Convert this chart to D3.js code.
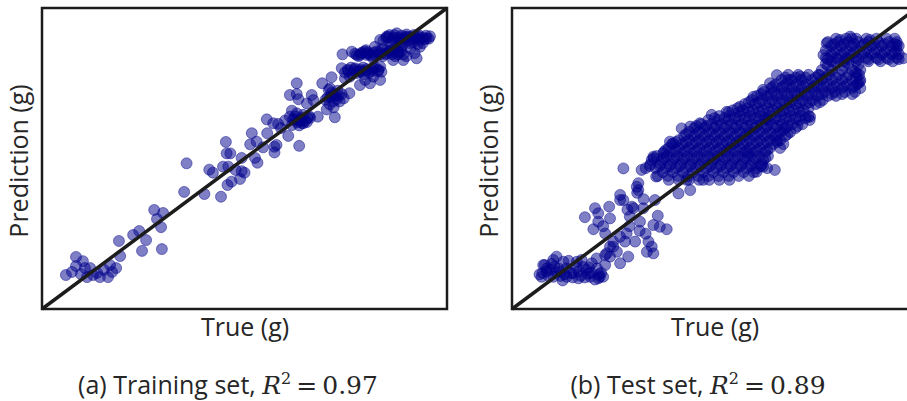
<!DOCTYPE html>
<html>
<head>
<meta charset="utf-8">
<script src="https://cdn.jsdelivr.net/npm/d3@7"></script>
<style>
  html, body { margin: 0; padding: 0; background: #fff; }
  svg { display: block; }
  .lbl { font-family: "Open Sans", sans-serif; fill: #262626; }
  .math { font-family: "DejaVu Serif", "Liberation Serif", serif; }
</style>
</head>
<body>
<svg id="chart" width="907" height="401"></svg>
<script>
// ---- data (True, Prediction) in grams ----
const axisDomain = [0, 100];

const trainPoints = [
  [5.9,11.3],[7.4,12.3],[8.4,17.3],[8.4,14.3],[10.1,15.9],[11.1,10.6],[11.9,13.6],[9.6,11.6],
  [12.6,11.3],[14.3,10.6],[16.3,10.6],[16.8,14.6],[18.3,13.6],[17.3,12.3],[19.3,17.6],[19.0,22.6],
  [22.5,24.6],[24.0,25.9],[25.7,22.9],[24.7,19.3],[27.7,32.9],[29.9,31.9],[28.4,29.9],[29.4,27.2],
  [29.6,19.9],[10.6,13.6],[15.3,13.0],[13.6,12.0],
  [35.7,48.4],[35.1,38.9],[40.1,38.2],[44.2,37.3],[41.3,46.3],[42.2,45.3],[45.4,55.5],[45.6,51.7],
  [46.5,51.7],[44.7,47.3],[46.0,47.3],[47.8,46.2],[49.3,50.2],[49.3,45.8],[50.0,45.3],[48.9,43.2],
  [46.8,42.3],[45.8,41.2],[51.4,54.7],[51.8,58.4],[53.0,55.6],[52.6,50.2],[53.2,48.6],[55.6,58.4],
  [55.5,63.0],[54.6,53.7],[57.4,53.9],[57.4,52.0],[57.9,54.5],[60.8,57.5],[63.5,54.2],[57.1,61.7],
  [58.3,61.5],[60.0,62.6],[61.2,63.9],[61.7,65.9],[62.9,65.0],[63.7,62.8],[64.5,61.7],[59.0,60.1],
  [61.7,61.1],[62.7,62.8],[65.4,62.1],[66.2,63.5],[62.9,75.0],[61.2,71.1],[62.9,71.4],[63.3,69.7],
  [65.4,68.3],[66.6,71.1],[67.0,69.4],[68.1,63.9],[69.2,75.0],[70.3,66.3],[71.5,77.0],[72.3,63.7],
  [71.9,71.1],[72.8,69.7],[71.1,73.3],[74.0,71.4],[74.0,80.0],[74.2,84.6],[75.9,71.7],[74.8,76.6],
  [77.3,80.0],[77.7,84.4],[78.5,74.4],[79.8,76.1],[81.0,75.0],[81.8,77.2],[83.5,76.1],[82.2,87.1],
  [83.5,89.4],[85.1,90.5],[87.6,91.6],[90.0,90.5],[92.5,89.9],[95.0,89.9],[92.5,83.3],[89.2,82.7],
  [86.7,82.7],[81.8,83.3],[78.5,84.4],[80.2,84.4],[85.1,86.0],[88.4,87.1],[90.9,88.3],[93.3,87.1],
  [83.5,80.5],[81.8,80.0],[78.5,78.8],[76.0,77.2],
  [77.3,84.8],[79.0,85.2],[80.5,84.8],[82.0,85.2],[83.5,84.6],[85.0,85.0],[86.5,84.6],[88.0,85.2],
  [89.2,84.5],[80.0,86.0],[84.0,86.4],[87.0,86.2],
  [85.0,90.0],[86.5,89.6],[88.0,90.2],[89.5,89.8],[91.0,90.4],[92.5,90.0],[94.0,90.2],[95.5,89.8],
  [87.0,91.0],[90.0,91.2],[93.0,91.0],[86.0,88.3],[88.5,88.5],[91.5,88.6],[94.0,88.3],
  [86.0,86.0],[88.0,85.5],[90.0,84.0],[92.0,85.0],[91.0,86.5],
  [75.5,79.5],[77.0,79.0],[78.5,79.6],[80.0,79.2],[81.5,79.5],[83.0,79.0],
  [70.5,70.2],[71.5,71.8],[72.5,70.8],[73.0,72.5],[70.8,72.8],[71.0,68.0],[72.0,67.0],[73.5,69.0],[74.5,70.0],
  [62.0,63.0],[63.0,62.0],[64.0,63.5],[65.0,62.5],[66.0,64.0],[63.5,61.0],[64.5,64.5],
  [78.2,84.0],[79.7,85.6],[81.2,84.2],[82.7,85.6],[84.2,84.0],[85.7,85.6],[87.2,84.0],[88.7,85.8],[76.5,85.5],
  [84.3,89.2],[85.8,91.0],[87.3,89.0],[88.8,90.8],[90.3,89.2],[91.8,91.0],[93.3,89.4],[94.8,90.8],[95.8,90.6],
  [89.0,87.5],[92.8,88.0],
  [74.8,78.6],[76.3,80.2],[77.8,78.4],[79.3,80.2],[80.8,78.6],[82.3,80.2],[83.8,78.8],[76.5,78.0],[79.5,78.0],
  [70.0,69.5],[72.0,69.0],[73.2,71.0],[71.2,70.5],
  [62.5,64.0],[63.8,62.4],[65.5,63.5],[64.2,61.8],
  [78.9,84.9],[80.4,85.3],[81.9,84.5],[83.4,85.4],[84.9,84.7],[86.4,85.2],[87.9,84.6],
  [85.4,90.4],[86.9,90.1],[88.4,89.6],[89.9,90.3],[91.4,89.8],[92.9,90.5],[94.4,89.6],
  [75.6,79.1],[77.1,79.6],[78.6,79.0],[80.1,79.7],[81.6,79.0],[83.1,79.5]
];

const testPoints = [
  // low cluster
  [7.3,10.7],[8.6,13.5],[8.1,14.6],[10.2,16.3],[11.0,12.4],[12.7,15.7],[13.5,10.7],[15.1,11.9],
  [16.4,10.2],[18.4,13.0],[19.7,15.2],[21.3,10.2],[19.3,10.7],[17.2,16.3],[20.9,16.8],[23.0,14.6],
  [23.0,17.9],[24.2,20.7],[26.7,15.2],[28.7,17.4],[25.9,19.0],[25.0,22.4],[23.0,25.1],[20.1,26.5],
  [18.0,30.5],[20.5,33.5],[21.3,31.8],[21.3,29.0],[24.2,30.1],[26.7,36.2],[27.5,36.2],[26.7,37.9],
  [30.0,33.5],[29.1,30.7],[31.6,29.0],[30.8,40.6],[30.9,38.6],[32.4,33.5],[34.9,27.9],[36.5,27.3],
  [38.2,26.5],[35.3,36.2],[26.7,24.0],[28.3,25.1],[30.4,22.4],[27.9,22.4],[33.7,22.4],[34.5,20.7],
  [34.9,18.5],[33.3,19.0],[24.2,17.4],[22.5,10.7],[10.2,10.7],[11.9,12.4],[9.4,13.0],[7.7,14.6],
  [11.0,17.4],[16.0,15.7],[21.7,10.7],[27.5,46.7],[23.4,18.5],[25.0,20.7],[32.0,46.2],[29.6,34.0],
  [31.2,39.5],[31.2,41.8],
  [7.5,12.0],[9.0,11.0],[10.5,14.0],[12.0,11.0],[13.5,13.5],[15.0,10.5],[16.5,12.5],[18.0,10.5],
  [19.5,12.0],[21.0,13.5],[14.0,16.0],[17.5,14.0],[12.5,9.5],[20.5,9.8],
  [8.5,12.5],[11.5,13.5],[14.5,12.0],[17.0,11.0],[19.0,13.8],[22.0,12.0],[6.8,11.5],[9.8,15.0],
  [13.0,11.5],[16.0,13.8],[18.8,11.7],[21.5,11.5],
  [33.0,25.0],[31.5,26.0],[29.0,27.5],[36.0,31.0],[22.5,27.5],[24.0,34.0],[32.5,36.5],[28.5,33.0],
  // middle blob edges
  [34.9,50.6],[37.4,51.7],[39.8,55.0],[41.9,60.0],[44.0,60.6],[46.4,61.7],[49.3,64.5],[53.0,65.5],
  [56.3,67.2],[59.6,70.5],[62.0,72.8],[63.7,75.0],[65.4,77.7],[68.2,76.1],[71.1,77.2],[76.0,77.7],
  [85.1,78.3],[85.5,75.0],[73.6,63.9],[64.9,46.2],[62.0,47.3],[60.4,45.6],[43.1,42.9],[44.0,39.5],
  [41.1,38.4],[47.2,42.9],[58.3,51.7],[65.4,56.1],[67.0,59.5],[62.9,62.8],[39.0,55.6],[35.6,44.0],
  // middle blob fill
  [36,44.2],[38.5,44.2],[41,44.2],[43.5,44.2],[46,44.2],[48.5,44.2],[51,44.2],[53.5,44.2],[56,44.2],[58.5,44.2],
  [33,46.8],[35.5,46.8],[38,46.8],[40.5,46.8],[43,46.8],[45.5,46.8],[48,46.8],[50.5,46.8],[53,46.8],[55.5,46.8],[58,46.8],[60.5,46.8],[63,46.8],
  [34.5,49.5],[37,49.5],[39.5,49.5],[42,49.5],[44.5,49.5],[47,49.5],[49.5,49.5],[52,49.5],[54.5,49.5],[57,49.5],[59.5,49.5],[62,49.5],
  [37.5,52.2],[40,52.2],[42.5,52.2],[45,52.2],[47.5,52.2],[50,52.2],[52.5,52.2],[55,52.2],[57.5,52.2],[60,52.2],[62.5,52.2],
  [39.5,54.8],[42,54.8],[44.5,54.8],[47,54.8],[49.5,54.8],[52,54.8],[54.5,54.8],[57,54.8],[59.5,54.8],[62,54.8],[64.5,54.8],[67,54.8],
  [42.5,57.5],[45,57.5],[47.5,57.5],[50,57.5],[52.5,57.5],[55,57.5],[57.5,57.5],[60,57.5],[62.5,57.5],[65,57.5],[67.5,57.5],
  [45,60.1],[47.5,60.1],[50,60.1],[52.5,60.1],[55,60.1],[57.5,60.1],[60,60.1],[62.5,60.1],[65,60.1],[67.5,60.1],[70,60.1],
  [48.5,62.8],[51,62.8],[53.5,62.8],[56,62.8],[58.5,62.8],[61,62.8],[63.5,62.8],[66,62.8],[68.5,62.8],[71,62.8],[73.5,62.8],
  [53.5,65.4],[56,65.4],[58.5,65.4],[61,65.4],[63.5,65.4],[66,65.4],[68.5,65.4],[71,65.4],
  [57.5,68.1],[60,68.1],[62.5,68.1],[65,68.1],[67.5,68.1],[70,68.1],[72.5,68.1],[75,68.1],
  [60.5,70.8],[63,70.8],[65.5,70.8],[68,70.8],[70.5,70.8],[73,70.8],[75.5,70.8],[78,70.8],[80,70.8],
  [64,73.4],[66.5,73.4],[69,73.4],[71.5,73.4],[74,73.4],[76.5,73.4],[79,73.4],[81.5,73.4],[84,73.4],[86,73.4],
  [66.5,76.1],[69,76.1],[71.5,76.1],[74,76.1],[76.5,76.1],[79,76.1],[81.5,76.1],[84,76.1],[86,76.1],
  [76.5,79.4],[79,79.4],[81.5,79.4],[84,79.4],[86,79.4],[84.7,78.8],[85.9,75.5],[78,80.8],[82,80.8],
  // middle blob, in-between rows
  [37.2,45.5],[39.7,45.5],[42.2,45.5],[44.7,45.5],[47.2,45.5],[49.7,45.5],[52.2,45.5],[54.7,45.5],[57.2,45.5],[59.7,45.5],
  [34.2,48.1],[36.7,48.1],[39.2,48.1],[41.7,48.1],[44.2,48.1],[46.7,48.1],[49.2,48.1],[51.7,48.1],[54.2,48.1],[56.7,48.1],[59.2,48.1],[61.7,48.1],
  [35.7,50.8],[38.2,50.8],[40.7,50.8],[43.2,50.8],[45.7,50.8],[48.2,50.8],[50.7,50.8],[53.2,50.8],[55.7,50.8],[58.2,50.8],[60.7,50.8],[63.2,50.8],
  [38.7,53.5],[41.2,53.5],[43.7,53.5],[46.2,53.5],[48.7,53.5],[51.2,53.5],[53.7,53.5],[56.2,53.5],[58.7,53.5],[61.2,53.5],[63.7,53.5],[66.2,53.5],
  [41.2,56.1],[43.7,56.1],[46.2,56.1],[48.7,56.1],[51.2,56.1],[53.7,56.1],[56.2,56.1],[58.7,56.1],[61.2,56.1],[63.7,56.1],[66.2,56.1],
  [43.7,58.8],[46.2,58.8],[48.7,58.8],[51.2,58.8],[53.7,58.8],[56.2,58.8],[58.7,58.8],[61.2,58.8],[63.7,58.8],[66.2,58.8],[68.7,58.8],
  [46.7,61.4],[49.2,61.4],[51.7,61.4],[54.2,61.4],[56.7,61.4],[59.2,61.4],[61.7,61.4],[64.2,61.4],[66.7,61.4],[69.2,61.4],[71.7,61.4],
  [51.2,64.1],[53.7,64.1],[56.2,64.1],[58.7,64.1],[61.2,64.1],[63.7,64.1],[66.2,64.1],[68.7,64.1],[71.2,64.1],[73.2,64.1],
  [55.7,66.7],[58.2,66.7],[60.7,66.7],[63.2,66.7],[65.7,66.7],[68.2,66.7],[70.7,66.7],[73.2,66.7],
  [59.2,69.4],[61.7,69.4],[64.2,69.4],[66.7,69.4],[69.2,69.4],[71.7,69.4],[74.2,69.4],[76.7,69.4],
  [62.2,72.1],[64.7,72.1],[67.2,72.1],[69.7,72.1],[72.2,72.1],[74.7,72.1],[77.2,72.1],[79.7,72.1],[82.2,72.1],[84.7,72.1],
  [65.2,74.7],[67.7,74.7],[70.2,74.7],[72.7,74.7],[75.2,74.7],[77.7,74.7],[80.2,74.7],[82.7,74.7],[85.2,74.7],
  [68.2,77.8],[70.7,77.8],[73.2,77.8],[75.7,77.8],[78.2,77.8],[80.7,77.8],[83.2,77.8],[85.7,77.8],
  [77.5,81.5],[80.0,81.8],[83.0,81.6],[85.5,81.0],
  // middle blob, further rows
  [38.7,42.9],[41.2,42.9],[43.7,42.9],[46.2,42.9],[48.7,42.9],[51.2,42.9],[53.7,42.9],
  [34,47.5],[36.5,47.5],[39,47.5],[41.5,47.5],[44,47.5],[46.5,47.5],[49,47.5],[51.5,47.5],[54,47.5],[56.5,47.5],[59,47.5],[61.5,47.5],
  [35,50.1],[37.5,50.1],[40,50.1],[42.5,50.1],[45,50.1],[47.5,50.1],[50,50.1],[52.5,50.1],[55,50.1],[57.5,50.1],[60,50.1],[62.5,50.1],
  [38,52.8],[40.5,52.8],[43,52.8],[45.5,52.8],[48,52.8],[50.5,52.8],[53,52.8],[55.5,52.8],[58,52.8],[60.5,52.8],[63,52.8],
  [40.5,55.5],[43,55.5],[45.5,55.5],[48,55.5],[50.5,55.5],[53,55.5],[55.5,55.5],[58,55.5],[60.5,55.5],[63,55.5],[65.5,55.5],
  [43,58.1],[45.5,58.1],[48,58.1],[50.5,58.1],[53,58.1],[55.5,58.1],[58,58.1],[60.5,58.1],[63,58.1],[65.5,58.1],[68,58.1],
  [45.5,60.8],[48,60.8],[50.5,60.8],[53,60.8],[55.5,60.8],[58,60.8],[60.5,60.8],[63,60.8],[65.5,60.8],[68,60.8],[70.5,60.8],
  [50,63.4],[52.5,63.4],[55,63.4],[57.5,63.4],[60,63.4],[62.5,63.4],[65,63.4],[67.5,63.4],[70,63.4],[72.5,63.4],
  [54.5,66.0],[57,66.0],[59.5,66.0],[62,66.0],[64.5,66.0],[67,66.0],[69.5,66.0],[72,66.0],
  [58.5,68.7],[61,68.7],[63.5,68.7],[66,68.7],[68.5,68.7],[71,68.7],[73.5,68.7],[76,68.7],
  [61.5,71.4],[64,71.4],[66.5,71.4],[69,71.4],[71.5,71.4],[74,71.4],[76.5,71.4],[79,71.4],[81.5,71.4],[84,71.4],
  [64.5,74.0],[67,74.0],[69.5,74.0],[72,74.0],[74.5,74.0],[77,74.0],[79.5,74.0],[82,74.0],[84.5,74.0],
  [67.5,76.9],[70,76.9],[72.5,76.9],[75,76.9],[77.5,76.9],[80,76.9],[82.5,76.9],[85,76.9],
  // top band
  [78,88.7],[80.5,88.7],[83,88.7],[85.5,88.7],[88,88.7],[90.5,88.7],[93,88.7],[95,88.7],
  [77.5,86.0],[80,86.0],[82.5,86.0],[85,86.0],[87.5,86.0],[90,86.0],[92.5,86.0],[95,86.0],
  [77.5,83.4],[80,83.4],[82.5,83.4],[85,83.4],[87.5,83.4],[90,83.4],[92.5,83.4],[95,83.4],
  [77.7,88.3],[76.9,84.4],[83.9,89.9],[96.6,83.3],[95.0,87.7],[83.5,90.5],[81.0,89.4],[88.4,89.4],
  [78.8,87.4],[81.3,87.4],[83.8,87.4],[86.3,87.4],[88.8,87.4],[91.3,87.4],[93.8,87.4],[95.5,87.4],
  [78.8,84.7],[81.3,84.7],[83.8,84.7],[86.3,84.7],[88.8,84.7],[91.3,84.7],[93.8,84.7],[95.5,84.7],
  [79,82.3],[82,82.3],[85,82.3],[88,82.3],[91,82.3],[94,82.3],
  [80,89.8],[82.5,89.8],[85,89.8],[87.5,89.8],[90,89.8],[92.5,89.8],[94.5,89.8],
  [79.5,88.0],[82,88.0],[84.5,88.0],[87,88.0],[89.5,88.0],[92,88.0],[94.5,88.0],
  [79.5,85.3],[82,85.3],[84.5,85.3],[87,85.3],[89.5,85.3],[92,85.3],[94.5,85.3],
  [78,83.0],[80.5,83.0],[83,83.0],[85.5,83.0],[88,83.0],[90.5,83.0],[93,83.0],[95.5,83.0]
];

const panels = [
  { points: trainPoints, left: 42, xLabel: "True (g)", yLabel: "Prediction (g)", caption: "(a) Training set, ", r2: "0.97" },
  { points: testPoints,  left: 512, xLabel: "True (g)", yLabel: "Prediction (g)", caption: "(b) Test set, ", r2: "0.89" }
];

const svg = d3.select("#chart");
const panelTop = 8, panelW = 405, panelH = 301;

panels.forEach(p => {
  const x = d3.scaleLinear().domain(axisDomain).range([p.left, p.left + panelW]);
  const y = d3.scaleLinear().domain(axisDomain).range([panelTop + panelH, panelTop]);
  const g = svg.append("g");

  g.selectAll("circle").data(p.points).enter().append("circle")
    .attr("cx", d => x(d[0])).attr("cy", d => y(d[1])).attr("r", 5.5)
    .attr("fill", "rgba(0,0,139,0.5)")
    .attr("stroke", "rgba(0,0,139,0.45)").attr("stroke-width", 1);

  g.append("line")
    .attr("x1", x(axisDomain[0])).attr("y1", y(axisDomain[0]))
    .attr("x2", x(axisDomain[1])).attr("y2", y(axisDomain[1]))
    .attr("stroke", "#1c1c1c").attr("stroke-width", 3.5);

  g.append("rect")
    .attr("x", p.left).attr("y", panelTop).attr("width", panelW).attr("height", panelH)
    .attr("fill", "none").attr("stroke", "#1c1c1c").attr("stroke-width", 2.5);

  g.append("text").attr("class", "lbl")
    .attr("x", p.left + 203).attr("y", 336).attr("text-anchor", "middle")
    .attr("font-size", 25).text(p.xLabel);

  g.append("text").attr("class", "lbl")
    .attr("transform", `translate(${p.left - 14},161) rotate(-90)`)
    .attr("text-anchor", "middle").attr("font-size", 25).text(p.yLabel);

  const cap = g.append("text").attr("class", "lbl")
    .attr("x", p.left + 186).attr("y", 394).attr("text-anchor", "middle")
    .attr("font-size", 25);
  cap.append("tspan").text(p.caption);
  cap.append("tspan").attr("class", "math").attr("font-style", "italic").text("R");
  cap.append("tspan").attr("class", "math").attr("font-size", 16).attr("dy", -10).text("2");
  cap.append("tspan").attr("class", "math").attr("dy", 10).text("\u2009=\u2009" + p.r2);
});
</script>
</body>
</html>
